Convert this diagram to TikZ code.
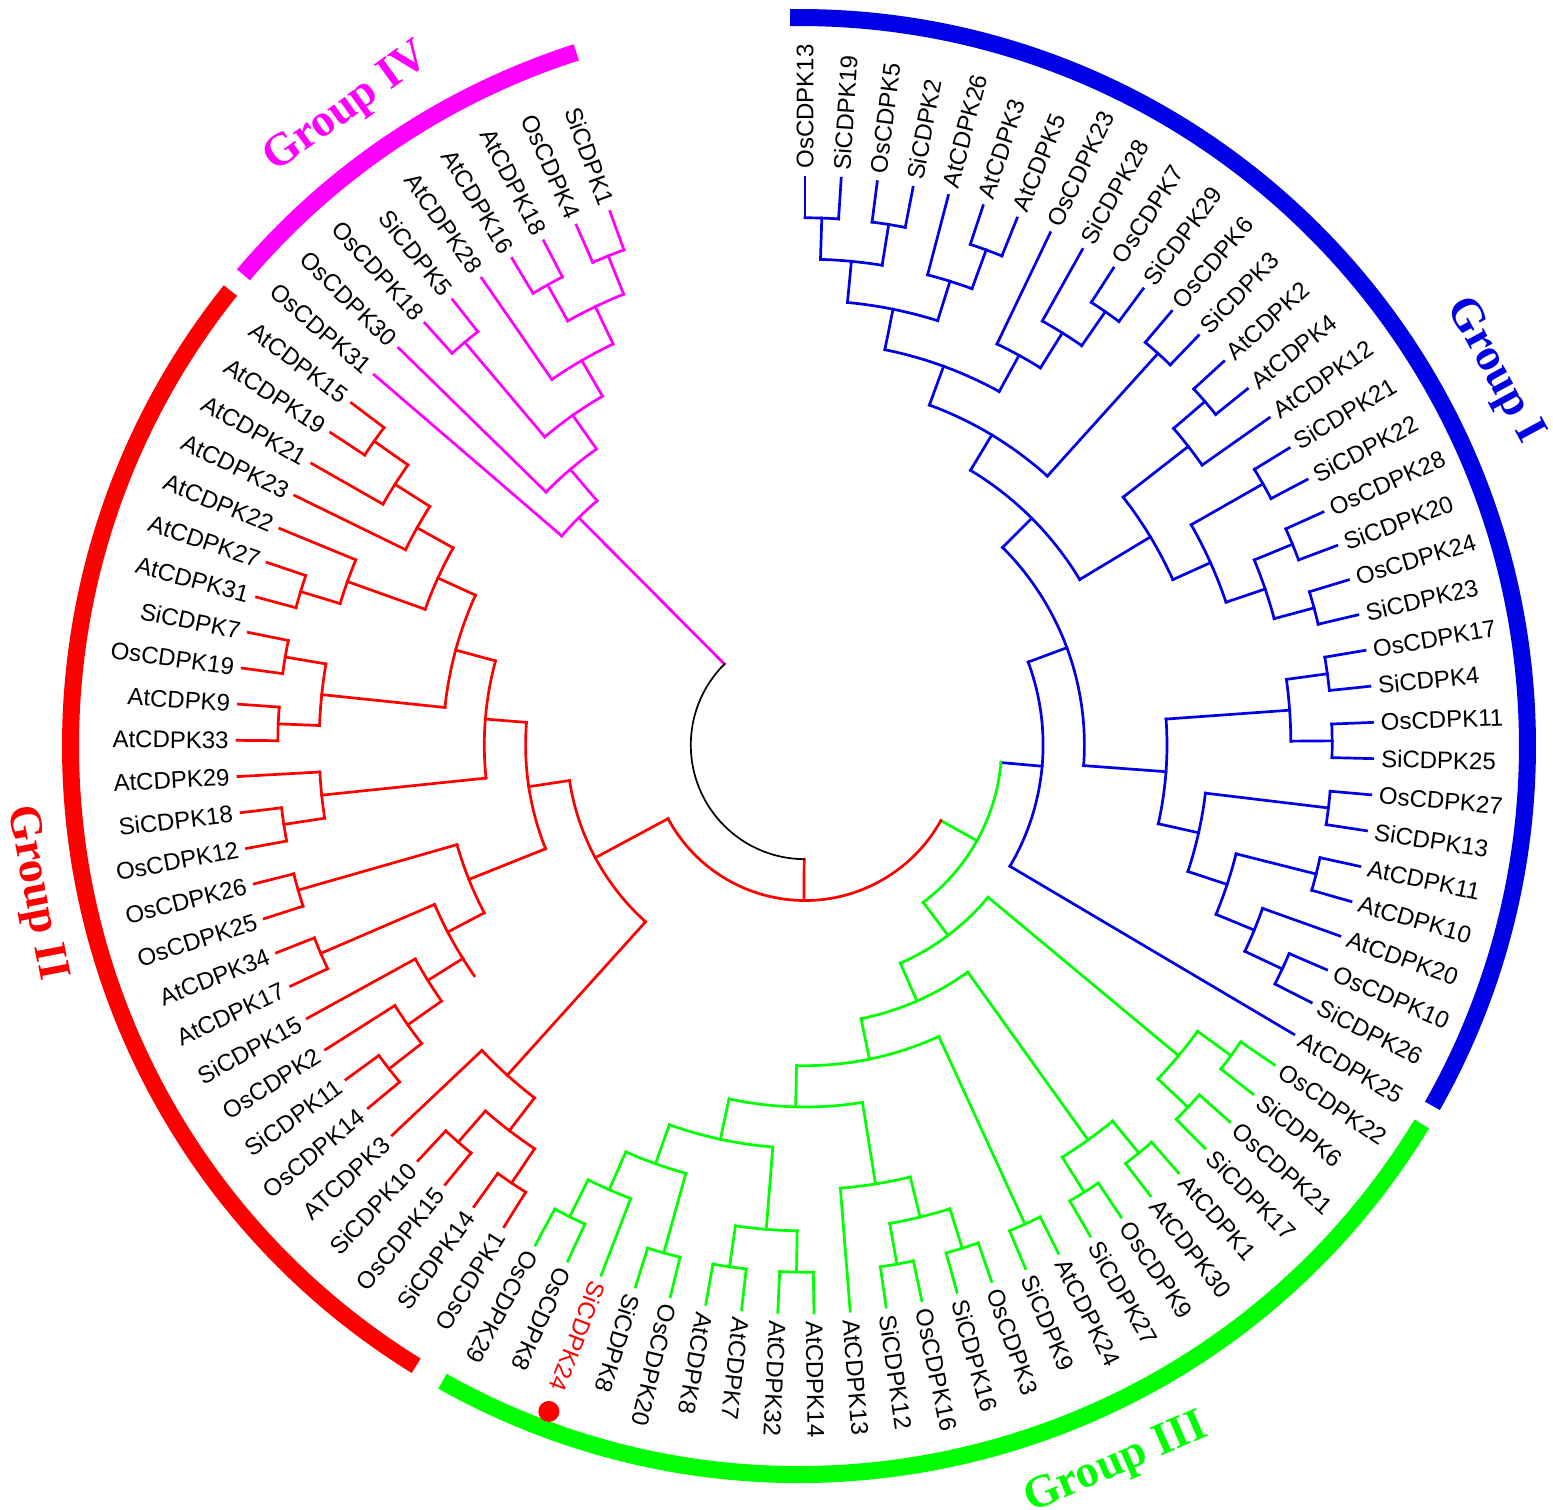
\documentclass[tikz,border=0pt]{standalone}
\usepackage{fontspec}
\setmainfont{Liberation Sans}
\newfontfamily\grpfont{Liberation Serif}
\definecolor{gI}{RGB}{0,0,230}
\definecolor{gII}{RGB}{255,0,0}
\definecolor{gIII}{RGB}{0,255,0}
\definecolor{gIV}{RGB}{255,0,255}

% leaf k sits at 90-3.655(k-1) degrees, tips on radius 568
\newcommand\gc{gI}
\newcommand\tleaf[3][]{%
  \pgfmathsetmacro\leafang{90-3.655*(#2-1)}%
  \expandafter\xdef\csname ta-#3\endcsname{\leafang}%
  \expandafter\xdef\csname tc-#3\endcsname{\gc}%
  \coordinate (#3) at (\leafang:568);
  \ifdim\leafang pt<-120pt
    \node[lab, anchor=east, rotate=\leafang+180, #1] (#3-t) at (\leafang:576) {#3};
  \else
    \node[lab, anchor=west, rotate=\leafang, #1] (#3-t) at (\leafang:576) {#3};
  \fi}
% clade {name}{level}{colour}{child}{child}
\newcommand\tclade[5]{%
  \edef\angA{\csname ta-#4\endcsname}%
  \edef\angB{\csname ta-#5\endcsname}%
  \edef\colA{\csname tc-#4\endcsname}%
  \edef\colB{\csname tc-#5\endcsname}%
  \pgfmathsetmacro\angM{(\angA+\angB)/2}%
  \pgfmathsetmacro\radN{568.5-41.3*#2}%
  \expandafter\xdef\csname ta-#1\endcsname{\angM}%
  \expandafter\xdef\csname tc-#1\endcsname{#3}%
  \coordinate (#1) at (\angM:\radN);
  \draw[br, color=\colA] (#4) -- (\angA:\radN);
  \draw[br, color=\colB] (#5) -- (\angB:\radN);
  \draw[br, #3] (\angA:\radN) arc[start angle=\angA, end angle=\angB, radius=\radN];}

\begin{document}
\begin{tikzpicture}[x=0.5pt, y=0.5pt, br/.style={line width=1.35pt, line cap=rect}, lab/.style={font=\fontsize{12}{14}\selectfont, inner sep=0pt}, ring/.style={line width=8.5pt}, grp/.style={font=\grpfont\bfseries\fontsize{23}{26}\selectfont, inner sep=0pt}]
	\useasboundingbox (-805,-765) rectangle (748,745);

	\renewcommand\gc{gI}
	\tleaf{1}{OsCDPK13}
	\tleaf{2}{SiCDPK19}
	\tleaf{3}{OsCDPK5}
	\tleaf{4}{SiCDPK2}
	\tleaf{5}{AtCDPK26}
	\tleaf{6}{AtCDPK3}
	\tleaf{7}{AtCDPK5}
	\tleaf{8}{OsCDPK23}
	\tleaf{9}{SiCDPK28}
	\tleaf{10}{OsCDPK7}
	\tleaf{11}{SiCDPK29}
	\tleaf{12}{OsCDPK6}
	\tleaf{13}{SiCDPK3}
	\tleaf{14}{AtCDPK2}
	\tleaf{15}{AtCDPK4}
	\tleaf{16}{AtCDPK12}
	\tleaf{17}{SiCDPK21}
	\tleaf{18}{SiCDPK22}
	\tleaf{19}{OsCDPK28}
	\tleaf{20}{SiCDPK20}
	\tleaf{21}{OsCDPK24}
	\tleaf{22}{SiCDPK23}
	\tleaf{23}{OsCDPK17}
	\tleaf{24}{SiCDPK4}
	\tleaf{25}{OsCDPK11}
	\tleaf{26}{SiCDPK25}
	\tleaf{27}{OsCDPK27}
	\tleaf{28}{SiCDPK13}
	\tleaf{29}{AtCDPK11}
	\tleaf{30}{AtCDPK10}
	\tleaf{31}{AtCDPK20}
	\tleaf{32}{OsCDPK10}
	\tleaf{33}{SiCDPK26}
	\tleaf{34}{AtCDPK25}

	\renewcommand\gc{gIII}
	\tleaf{35}{OsCDPK22}
	\tleaf{36}{SiCDPK6}
	\tleaf{37}{OsCDPK21}
	\tleaf{38}{SiCDPK17}
	\tleaf{39}{AtCDPK1}
	\tleaf{40}{AtCDPK30}
	\tleaf{41}{OsCDPK9}
	\tleaf{42}{SiCDPK27}
	\tleaf{43}{AtCDPK24}
	\tleaf{44}{SiCDPK9}
	\tleaf{45}{OsCDPK3}
	\tleaf{46}{SiCDPK16}
	\tleaf{47}{OsCDPK16}
	\tleaf{48}{SiCDPK12}
	\tleaf{49}{AtCDPK13}
	\tleaf{50}{AtCDPK14}
	\tleaf{51}{AtCDPK32}
	\tleaf{52}{AtCDPK7}
	\tleaf{53}{AtCDPK8}
	\tleaf{54}{OsCDPK20}
	\tleaf{55}{SiCDPK8}
	\tleaf[gII]{56}{SiCDPK24}
	\tleaf{57}{OsCDPK8}
	\tleaf{58}{OsCDPK29}

	\renewcommand\gc{gII}
	\tleaf{59}{OsCDPK1}
	\tleaf{60}{SiCDPK14}
	\tleaf{61}{OsCDPK15}
	\tleaf{62}{SiCDPK10}
	\tleaf{63}{ATCDPK3}
	\tleaf{64}{OsCDPK14}
	\tleaf{65}{SiCDPK11}
	\tleaf{66}{OsCDPK2}
	\tleaf{67}{SiCDPK15}
	\tleaf{68}{AtCDPK17}
	\tleaf{69}{AtCDPK34}
	\tleaf{70}{OsCDPK25}
	\tleaf{71}{OsCDPK26}
	\tleaf{72}{OsCDPK12}
	\tleaf{73}{SiCDPK18}
	\tleaf{74}{AtCDPK29}
	\tleaf{75}{AtCDPK33}
	\tleaf{76}{AtCDPK9}
	\tleaf{77}{OsCDPK19}
	\tleaf{78}{SiCDPK7}
	\tleaf{79}{AtCDPK31}
	\tleaf{80}{AtCDPK27}
	\tleaf{81}{AtCDPK22}
	\tleaf{82}{AtCDPK23}
	\tleaf{83}{AtCDPK21}
	\tleaf{84}{AtCDPK19}
	\tleaf{85}{AtCDPK15}

	\renewcommand\gc{gIV}
	\tleaf{86}{OsCDPK31}
	\tleaf{87}{OsCDPK30}
	\tleaf{88}{OsCDPK18}
	\tleaf{89}{SiCDPK5}
	\tleaf{90}{AtCDPK28}
	\tleaf{91}{AtCDPK16}
	\tleaf{92}{AtCDPK18}
	\tleaf{93}{OsCDPK4}
	\tleaf{94}{SiCDPK1}

	% group I
	\tclade{a1}{1}{gI}{OsCDPK13}{SiCDPK19}
	\tclade{a2}{1}{gI}{OsCDPK5}{SiCDPK2}
	\tclade{a3}{2}{gI}{a1}{a2}
	\tclade{a4}{1}{gI}{AtCDPK3}{AtCDPK5}
	\tclade{a5}{2}{gI}{AtCDPK26}{a4}
	\tclade{a6}{3}{gI}{a3}{a5}
	\tclade{a7}{1}{gI}{OsCDPK7}{SiCDPK29}
	\tclade{a8}{2}{gI}{SiCDPK28}{a7}
	\tclade{a9}{3}{gI}{OsCDPK23}{a8}
	\tclade{a10}{4}{gI}{a6}{a9}
	\tclade{a11}{1}{gI}{OsCDPK6}{SiCDPK3}
	\tclade{a12}{5}{gI}{a10}{a11}
	\tclade{b2}{1}{gI}{AtCDPK2}{AtCDPK4}
	\tclade{b1}{2}{gI}{b2}{AtCDPK12}
	\tclade{b4}{1}{gI}{SiCDPK21}{SiCDPK22}
	\tclade{b6}{1}{gI}{OsCDPK28}{SiCDPK20}
	\tclade{b7}{1}{gI}{OsCDPK24}{SiCDPK23}
	\tclade{b5}{2}{gI}{b6}{b7}
	\tclade{b3}{3}{gI}{b4}{b5}
	\tclade{b0}{4}{gI}{b1}{b3}
	\tclade{a13}{6}{gI}{a12}{b0}
	\tclade{d1}{1}{gI}{OsCDPK17}{SiCDPK4}
	\tclade{d2}{1}{gI}{OsCDPK11}{SiCDPK25}
	\tclade{d0}{2}{gI}{d1}{d2}
	\tclade{e1}{1}{gI}{OsCDPK27}{SiCDPK13}
	\tclade{e3}{1}{gI}{AtCDPK11}{AtCDPK10}
	\tclade{e5}{1}{gI}{OsCDPK10}{SiCDPK26}
	\tclade{e4}{2}{gI}{AtCDPK20}{e5}
	\tclade{e2}{3}{gI}{e3}{e4}
	\tclade{e0}{4}{gI}{e1}{e2}
	\tclade{c0}{5}{gI}{d0}{e0}
	\tclade{a14}{7}{gI}{a13}{c0}
	\tclade{cI}{8}{gI}{a14}{AtCDPK25}

	% group III
	\tclade{h1}{1}{gIII}{OsCDPK22}{SiCDPK6}
	\tclade{h2}{1}{gIII}{OsCDPK21}{SiCDPK17}
	\tclade{h3}{2}{gIII}{h1}{h2}
	\tclade{h4}{1}{gIII}{AtCDPK1}{AtCDPK30}
	\tclade{h5}{1}{gIII}{OsCDPK9}{SiCDPK27}
	\tclade{h6}{2}{gIII}{h4}{h5}
	\tclade{h7}{1}{gIII}{AtCDPK24}{SiCDPK9}
	\tclade{h8}{1}{gIII}{OsCDPK3}{SiCDPK16}
	\tclade{h9}{1}{gIII}{OsCDPK16}{SiCDPK12}
	\tclade{h10}{2}{gIII}{h8}{h9}
	\tclade{h11}{3}{gIII}{h10}{AtCDPK13}
	\tclade{h12}{1}{gIII}{AtCDPK14}{AtCDPK32}
	\tclade{h13}{1}{gIII}{AtCDPK7}{AtCDPK8}
	\tclade{h14}{2}{gIII}{h12}{h13}
	\tclade{h15}{1}{gIII}{OsCDPK20}{SiCDPK8}
	\tclade{h16}{1}{gIII}{OsCDPK8}{OsCDPK29}
	\tclade{h17}{2}{gIII}{SiCDPK24}{h16}
	\tclade{h18}{3}{gIII}{h15}{h17}
	\tclade{h19}{4}{gIII}{h14}{h18}
	\tclade{h20}{5}{gIII}{h11}{h19}
	\tclade{h21}{6}{gIII}{h7}{h20}
	\tclade{h22}{7}{gIII}{h6}{h21}
	\tclade{cIII}{8}{gIII}{h3}{h22}

	% group II
	\tclade{r1}{1}{gII}{AtCDPK15}{AtCDPK19}
	\tclade{r2}{2}{gII}{r1}{AtCDPK21}
	\tclade{r3}{3}{gII}{r2}{AtCDPK23}
	\tclade{r4}{1}{gII}{AtCDPK27}{AtCDPK31}
	\tclade{r5}{2}{gII}{AtCDPK22}{r4}
	\tclade{r6}{4}{gII}{r3}{r5}
	\tclade{r7}{1}{gII}{SiCDPK7}{OsCDPK19}
	\tclade{r8}{1}{gII}{AtCDPK9}{AtCDPK33}
	\tclade{r9}{2}{gII}{r7}{r8}
	\tclade{r10}{5}{gII}{r6}{r9}
	\tclade{r11}{1}{gII}{SiCDPK18}{OsCDPK12}
	\tclade{r12}{2}{gII}{AtCDPK29}{r11}
	\tclade{r13}{6}{gII}{r10}{r12}
	\tclade{r14}{1}{gII}{OsCDPK26}{OsCDPK25}
	\tclade{r15}{1}{gII}{AtCDPK34}{AtCDPK17}
	\tclade{r16}{1}{gII}{SiCDPK11}{OsCDPK14}
	\tclade{r17}{2}{gII}{OsCDPK2}{r16}
	\tclade{r18}{3}{gII}{SiCDPK15}{r17}
	\tclade{r19}{4}{gII}{r15}{r18}
	\draw[br, gII] (-148.03:403.3) arc[start angle=-148.03, end angle=-145.1, radius=403.3];
	\tclade{r20}{5}{gII}{r14}{r19}
	\tclade{r21}{7}{gII}{r13}{r20}
	\tclade{r22}{1}{gII}{SiCDPK10}{OsCDPK15}
	\tclade{r23}{1}{gII}{SiCDPK14}{OsCDPK1}
	\tclade{r24}{2}{gII}{r22}{r23}
	\tclade{r25}{3}{gII}{ATCDPK3}{r24}
	\tclade{cII}{8}{gII}{r21}{r25}

	% group IV
	\tclade{m1}{1}{gIV}{SiCDPK1}{OsCDPK4}
	\tclade{m2}{1}{gIV}{AtCDPK18}{AtCDPK16}
	\tclade{m3}{2}{gIV}{m2}{m1}
	\tclade{m4}{3}{gIV}{AtCDPK28}{m3}
	\tclade{m5}{1}{gIV}{SiCDPK5}{OsCDPK18}
	\tclade{m6}{4}{gIV}{m5}{m4}
	\tclade{m7}{5}{gIV}{OsCDPK30}{m6}
	\tclade{cIV}{6}{gIV}{OsCDPK31}{m7}

	\tclade{y}{9}{gIII}{cI}{cIII}
	\tclade{x}{10}{gII}{cII}{y}
	\tclade{root}{11}{black, line width=0.85pt}{cIV}{x}

	\begin{scope}[shift={(-6,-1)}]
		\draw[ring, gI] (90.7:728.5) arc[start angle=90.7, end angle=-29.6, radius=728.5];
		\draw[ring, gIII] (-31.25:728.5) arc[start angle=-31.25, end angle=-119.3, radius=728.5];
		\draw[ring, gII] (-121.7:728.5) arc[start angle=-121.7, end angle=-218.7, radius=728.5];
		\draw[ring, gIV] (-220.3:728.5) arc[start angle=-220.3, end angle=-252.2, radius=728.5];
	\end{scope}

	\coordinate (dot) at (-111.025:714);
	\fill[gII] (dot) circle[radius=10.5];

	\node[grp, gI, rotate=-61.5] (tI) at (28.5:784) {Group I};
	\node[grp, gII, rotate=280.9] (tII) at (190.9:784) {Group II};
	\node[grp, gIII, rotate=23.4] (tIII) at (-66.6:784) {Group III};
	\node[grp, gIV, rotate=35.7] (tIV) at (125.7:784) {Group IV};
\end{tikzpicture}
\end{document}
